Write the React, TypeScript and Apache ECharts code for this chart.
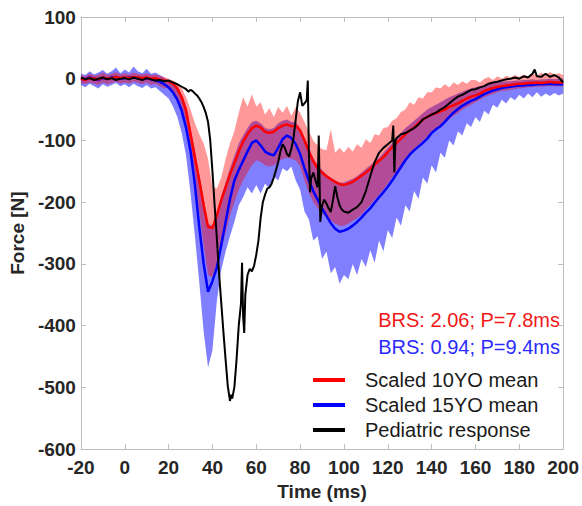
import React, { useEffect, useRef } from "react";
import * as echarts from "echarts";

// Band / mean grid: t = -20 .. 200 ms every 2 ms
const redMean = [
  0, -2, 1, 0, -1, 2, 0, 1, 3, 1,
  2, 1, 3, 2, 1, 2, 0, 1, -1, -3,
  -4, -8, -16, -30, -52, -90, -128, -165, -205, -240,
  -242, -222, -197, -176, -155, -137, -118, -102, -90, -80,
  -76, -79, -86, -88, -86, -80, -76, -74, -77, -76,
  -84, -100, -118, -134, -145, -152, -158, -163, -167, -171,
  -172, -170, -167, -162, -157, -152, -146, -139, -133, -127,
  -119, -111, -104, -97, -90, -84, -79, -72, -66, -62,
  -58, -56, -53, -50, -46, -43, -40, -36, -32, -29,
  -27, -24, -20, -17, -15, -13, -12, -11, -10, -9,
  -8, -8, -7, -7, -6, -7, -6, -5, -6, -6,
  -6,
];
const redUpper = [
  6, 4, 9, 5, 7, 10, 6, 8, 11, 7,
  9, 7, 10, 8, 7, 9, 6, 7, 5, 3,
  0, -3, -8, -16, -30, -50, -72, -90, -105, -130,
  -175, -178, -160, -130, -105, -85, -55, -30, -45, -25,
  -45, -38, -58, -48, -62, -46, -55, -44, -60, -46,
  -55, -70, -85, -100, -108, -114, -116, -82, -120, -112,
  -120, -110, -118, -106, -112, -98, -104, -90, -92, -80,
  -78, -68, -64, -54, -50, -38, -42, -30, -32, -22,
  -22, -14, -16, -9, -14, -6, -10, -4, -8, -2,
  -2, -6, 0, 3, -2, 4, 0, 5, 2, 6,
  3, 7, 4, 9, 5, 10, 6, 11, 7, 9,
  6,
];
const redLower = [
  -7, -9, -6, -8, -10, -6, -9, -7, -5, -8,
  -6, -8, -5, -7, -9, -6, -10, -8, -12, -16,
  -14, -22, -35, -55, -82, -118, -160, -215, -270, -318,
  -322, -300, -275, -250, -222, -200, -180, -165, -152, -140,
  -132, -135, -140, -142, -140, -135, -130, -128, -130, -132,
  -142, -165, -185, -200, -210, -218, -225, -230, -235, -238,
  -238, -235, -230, -226, -220, -212, -205, -196, -188, -180,
  -170, -160, -150, -140, -130, -122, -115, -108, -100, -94,
  -88, -82, -78, -72, -66, -60, -56, -50, -46, -42,
  -38, -34, -30, -27, -25, -22, -20, -19, -18, -17,
  -16, -15, -14, -14, -13, -13, -12, -12, -12, -12,
  -12,
];
const blueMean = [
  0, -1, 2, 0, -2, 1, 0, 2, 3, 0,
  1, 2, 2, 1, 0, 1, -1, -3, -5, -9,
  -14, -22, -34, -52, -80, -117, -172, -240, -300, -345,
  -328, -306, -270, -232, -195, -165, -148, -133, -118, -104,
  -100, -108, -118, -122, -124, -112, -98, -92, -96, -106,
  -122, -145, -165, -182, -196, -210, -222, -234, -243, -248,
  -246, -243, -238, -232, -225, -217, -210, -201, -192, -184,
  -175, -165, -154, -143, -132, -123, -116, -110, -104, -97,
  -88, -82, -77, -70, -62, -55, -49, -44, -40, -36,
  -33, -29, -25, -22, -19, -17, -15, -14, -13, -12,
  -11, -11, -10, -10, -9, -9, -9, -8, -9, -9,
  -9,
];
const blueUpper = [
  8, 6, 12, 7, 10, 14, 8, 12, 18, 9,
  15, 10, 20, 12, 9, 16, 8, 10, 6, 2,
  -4, -8, -14, -26, -46, -80, -115, -155, -195, -235,
  -238, -215, -190, -168, -145, -125, -105, -92, -80, -70,
  -68, -72, -80, -82, -80, -72, -68, -66, -70, -70,
  -80, -95, -112, -128, -140, -148, -155, -160, -165, -168,
  -168, -165, -162, -158, -152, -146, -140, -134, -128, -120,
  -112, -104, -96, -88, -80, -74, -68, -62, -56, -50,
  -46, -42, -38, -34, -30, -27, -24, -21, -18, -16,
  -14, -12, -10, -8, -7, -6, -5, -4, -4, -3,
  -3, -2, -2, -1, -2, -1, -1, 0, -1, 0,
  0,
];
const blueLower = [
  -10, -14, -8, -12, -16, -9, -13, -10, -7, -12,
  -9, -14, -8, -12, -15, -10, -16, -14, -20, -26,
  -32, -45, -62, -88, -125, -185, -255, -330, -410, -468,
  -440, -360, -310, -280, -255, -232, -205, -192, -176, -186,
  -172, -186, -170, -178, -158, -165, -145, -150, -142, -165,
  -180, -215, -228, -262, -255, -292, -280, -315, -305, -332,
  -318, -325, -300, -318, -292, -305, -278, -298, -262, -280,
  -245, -258, -225, -238, -205, -215, -182, -195, -160, -170,
  -140, -152, -120, -128, -100, -108, -85, -92, -72, -78,
  -62, -70, -52, -58, -42, -47, -34, -40, -30, -35,
  -26, -32, -24, -30, -22, -29, -24, -28, -23, -27,
  -24,
];
const bandTime = redMean.map((_, i) => -20 + 2 * i);

// Pediatric response
const pedTime = [
  -20, -18, -16, -14, -12, -10, -8, -6, -4, -2, 0, 2, 4, 6, 8, 10, 12, 14, 16, 18,
  20, 22, 24, 26, 28, 29, 30, 31, 32, 33, 34, 35, 36, 37, 38, 39, 40, 41, 42, 43,
  44, 45, 46, 47, 48, 48.5, 49, 50, 51, 52, 53, 53.5, 54, 54.5, 55, 56, 57, 58, 59, 60,
  61, 62, 63, 64, 65, 66, 67, 68, 69, 70, 71, 72, 73, 74, 75, 76, 77, 78, 79, 80,
  81, 82, 83, 83.5, 84, 84.5, 85, 86, 87, 88, 88.5, 89.2, 90, 91, 92, 93, 94, 95, 96, 97,
  98, 99, 100, 102, 104, 106, 108, 110, 112, 114, 116, 118, 120, 122, 122.5, 123, 123.5, 124, 126, 128,
  130, 132, 134, 136, 138, 140, 142, 144, 146, 148, 150, 152, 154, 156, 158, 160, 162, 164, 166, 168,
  170, 172, 174, 176, 178, 180, 182, 184, 186, 187, 188, 190, 192, 194, 196, 198, 200,
];
const pedForce = [
  2, -1, 1, -2, 0, 2, -1, 1, -2, 0, 1, -1, 2, 0, -2, 1, -1, -3, -2, -4,
  -3, -6, -9, -13, -17, -21, -18, -20, -24, -27, -32, -38, -46, -56, -70, -100, -150, -205, -258, -315,
  -362, -410, -455, -498, -522, -512, -518, -500, -455, -400, -365, -298, -385, -412, -350, -318, -308, -312, -303, -285,
  -262, -225, -200, -188, -178, -176, -170, -160, -148, -135, -118, -106, -112, -122, -126, -113, -96, -66, -36, -22,
  -44, -40, -35, -3, -120, -184, -162, -152, -165, -176, -92, -232, -205, -196, -202, -210, -216, -196, -174, -192,
  -205, -212, -215, -217, -212, -208, -200, -182, -158, -135, -120, -112, -106, -100, -76, -152, -100, -96, -90, -88,
  -84, -80, -74, -66, -62, -58, -55, -50, -46, -40, -34, -29, -26, -22, -18, -17, -14, -12, -8, -6,
  -5, -3, -1, 0, 2, 0, 4, 2, 8, 15, 4, 3, 8, 3, 6, 2, -6,
];

const seriesNames = ["Scaled 10YO mean", "Scaled 15YO mean", "Pediatric response"];
const annotations = ["BRS: 2.06; P=7.8ms", "BRS: 0.94; P=9.4ms"];

const FONT = "'Liberation Sans', Arial, Helvetica, sans-serif";

function band(name: string, upper: number[], lower: number[], fill: string) {
  return {
    type: "custom",
    name,
    silent: true,
    clip: true,
    data: [[bandTime[0], upper[0]]],
    encode: { x: 0, y: 1 },
    renderItem: (_params: any, api: any) => {
      const pts: number[][] = [];
      for (let i = 0; i < bandTime.length; i++) pts.push(api.coord([bandTime[i], upper[i]]));
      for (let i = bandTime.length - 1; i >= 0; i--) pts.push(api.coord([bandTime[i], lower[i]]));
      return { type: "polygon", shape: { points: pts }, style: { fill } };
    },
  };
}

export default function App() {
  const ref = useRef<HTMLDivElement>(null);
  useEffect(() => {
    if (!ref.current) return;
    const chart = echarts.init(ref.current, null, { renderer: "svg" });
    const axisColor = "#bdbdbd";
    const labelStyle = { color: "#262626", fontWeight: "bold" as const, fontSize: 19, fontFamily: FONT };
    const lineOpt = { show: true, onZero: false, lineStyle: { color: axisColor, width: 1 } };
    const tickOpt = { show: true, inside: true, length: 5, lineStyle: { color: axisColor } };
    chart.setOption({
      animation: false,
      backgroundColor: "#ffffff",
      grid: { left: 73, right: 16, top: 17, bottom: 55 },
      legend: {
        data: seriesNames,
        orient: "vertical",
        left: 313,
        top: 370,
        padding: 0,
        itemGap: 5,
        itemWidth: 32,
        itemHeight: 4,
        icon: "rect",
        textStyle: { fontSize: 20, color: "#1a1a1a", fontFamily: FONT, padding: [0, 0, 0, 15] },
      },
      graphic: [
        {
          type: "text",
          x: 560,
          y: 320,
          style: { text: annotations[0], fill: "#f01818", fontSize: 20, fontFamily: FONT, align: "right", verticalAlign: "middle" },
        },
        {
          type: "text",
          x: 560,
          y: 347,
          style: { text: annotations[1], fill: "#2b2bff", fontSize: 20, fontFamily: FONT, align: "right", verticalAlign: "middle" },
        },
      ],
      xAxis: [
        {
          type: "value",
          min: -20,
          max: 200,
          interval: 20,
          name: "Time (ms)",
          nameLocation: "middle",
          nameGap: 32,
          nameTextStyle: { ...labelStyle },
          axisLine: lineOpt,
          axisTick: tickOpt,
          axisLabel: { ...labelStyle, margin: 9 },
          splitLine: { show: false },
        },
        {
          type: "value",
          position: "top",
          min: -20,
          max: 200,
          interval: 20,
          axisLine: lineOpt,
          axisTick: tickOpt,
          axisLabel: { show: false },
          splitLine: { show: false },
        },
      ],
      yAxis: [
        {
          type: "value",
          min: -600,
          max: 100,
          interval: 100,
          name: "Force [N]",
          nameLocation: "middle",
          nameGap: 48,
          nameTextStyle: { ...labelStyle },
          axisLine: lineOpt,
          axisTick: tickOpt,
          axisLabel: { ...labelStyle, margin: 5 },
          splitLine: { show: false },
        },
        {
          type: "value",
          position: "right",
          min: -600,
          max: 100,
          interval: 100,
          axisLine: lineOpt,
          axisTick: tickOpt,
          axisLabel: { show: false },
          splitLine: { show: false },
        },
      ],
      series: [
        band("15YO band", blueUpper, blueLower, "rgba(0,0,255,0.5)"),
        band("10YO band", redUpper, redLower, "rgba(255,0,0,0.4)"),
        {
          type: "line",
          name: seriesNames[1],
          data: bandTime.map((t, i) => [t, blueMean[i]]),
          showSymbol: false,
          lineStyle: { color: "#0000ff", width: 2.5 },
          itemStyle: { color: "#0000ff" },
          silent: true,
        },
        {
          type: "line",
          name: seriesNames[0],
          data: bandTime.map((t, i) => [t, redMean[i]]),
          showSymbol: false,
          lineStyle: { color: "#ff0000", width: 2.5 },
          itemStyle: { color: "#ff0000" },
          silent: true,
        },
        {
          type: "line",
          name: seriesNames[2],
          data: pedTime.map((t, i) => [t, pedForce[i]]),
          showSymbol: false,
          lineStyle: { color: "#000000", width: 2 },
          itemStyle: { color: "#000000" },
          silent: true,
        },
      ],
    });
    return () => chart.dispose();
  }, []);
  return <div ref={ref} style={{ position: "fixed", left: 0, top: 0, width: 582, height: 506, background: "#fff" }} />;
}
